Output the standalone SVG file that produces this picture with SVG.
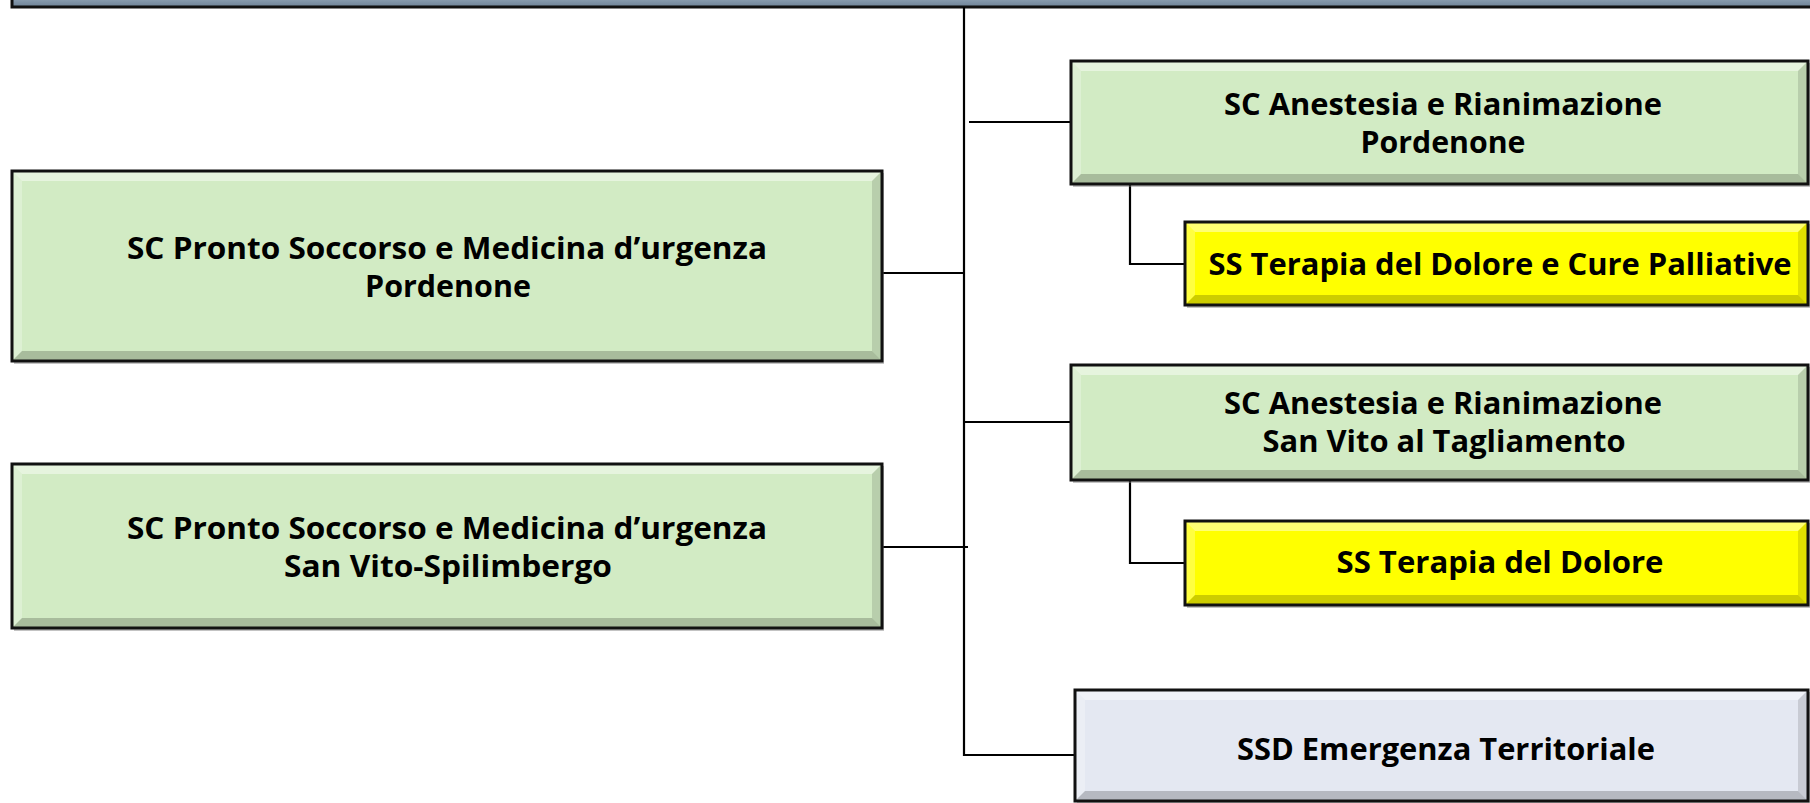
<svg xmlns="http://www.w3.org/2000/svg" width="1810" height="803" viewBox="0 0 1810 803">
<defs>
<linearGradient id="barGrad" x1="0" y1="0" x2="0" y2="1">
<stop offset="0" stop-color="#c3d0dc"/>
<stop offset="0.6" stop-color="#95a8ba"/>
<stop offset="1" stop-color="#6d8296"/>
</linearGradient>
</defs>
<style>
.green{fill:#d2ebc4}
.yellow{fill:#ffff00}
.blue{fill:#e4e8f2}
.frame{fill:none;stroke:#111;stroke-width:3}
.shadow{fill:#7a7a7a;opacity:0.45}
.bt{fill:#ffffff;opacity:0.45}
.bl{fill:#ffffff;opacity:0.25}
.bb{fill:#000000;opacity:0.2}
.br{fill:#000000;opacity:0.12}
.conn{fill:none;stroke:#000;stroke-width:2.2}
text{font-family:"Open Sans","Noto Sans","Liberation Sans",sans-serif;font-weight:700;font-size:31px;fill:#000;text-anchor:middle}
</style>
<rect x="0" y="0" width="1810" height="803" fill="#ffffff"/>

<g id="top-bar">
<rect x="12" y="-20" width="1810" height="27" fill="url(#barGrad)" stroke="#111" stroke-width="3"/>
</g>

<g id="connectors">
<path class="conn" d="M964,7 V755 H1075"/>
<path class="conn" d="M969,122 H1071"/>
<path class="conn" d="M882,273 H964"/>
<path class="conn" d="M964,422 H1071"/>
<path class="conn" d="M882,547 H968"/>
<path class="conn" d="M1130,184 V264 H1185"/>
<path class="conn" d="M1130,480 V563 H1185"/>
</g>

<g id="sc-ps-pordenone">
<rect class="shadow" x="14" y="173" width="870" height="191"/>
<rect class="green" x="12" y="171" width="870" height="190"/>
<path class="bt" d="M12,171 H882 L872,181 H22 Z"/>
<path class="bl" d="M12,171 L22,181 V351 L12,361 Z"/>
<path class="bb" d="M12,361 L22,351 H872 L882,361 Z"/>
<path class="br" d="M882,171 V361 L872,351 V181 Z"/>
<rect class="frame" x="12" y="171" width="870" height="190"/>
<text x="447" y="259" textLength="640" lengthAdjust="spacingAndGlyphs">SC Pronto Soccorso e Medicina d’urgenza</text>
<text x="448" y="297" textLength="166" lengthAdjust="spacingAndGlyphs">Pordenone</text>
</g>

<g id="sc-ps-sanvito">
<rect class="shadow" x="14" y="466" width="870" height="165"/>
<rect class="green" x="12" y="464" width="870" height="164"/>
<path class="bt" d="M12,464 H882 L872,474 H22 Z"/>
<path class="bl" d="M12,464 L22,474 V618 L12,628 Z"/>
<path class="bb" d="M12,628 L22,618 H872 L882,628 Z"/>
<path class="br" d="M882,464 V628 L872,618 V474 Z"/>
<rect class="frame" x="12" y="464" width="870" height="164"/>
<text x="447" y="539" textLength="640" lengthAdjust="spacingAndGlyphs">SC Pronto Soccorso e Medicina d’urgenza</text>
<text x="448" y="577" textLength="328" lengthAdjust="spacingAndGlyphs">San Vito-Spilimbergo</text>
</g>

<g id="sc-ar-pordenone">
<rect class="shadow" x="1073" y="63" width="737" height="124"/>
<rect class="green" x="1071" y="61" width="737" height="123"/>
<path class="bt" d="M1071,61 H1808 L1798,71 H1081 Z"/>
<path class="bl" d="M1071,61 L1081,71 V174 L1071,184 Z"/>
<path class="bb" d="M1071,184 L1081,174 H1798 L1808,184 Z"/>
<path class="br" d="M1808,61 V184 L1798,174 V71 Z"/>
<rect class="frame" x="1071" y="61" width="737" height="123"/>
<text x="1443" y="115" textLength="438" lengthAdjust="spacingAndGlyphs">SC Anestesia e Rianimazione</text>
<text x="1443" y="153" textLength="165" lengthAdjust="spacingAndGlyphs">Pordenone</text>
</g>

<g id="ss-terapia-dolore-cure-palliative">
<rect class="shadow" x="1187" y="224" width="623" height="84"/>
<rect class="yellow" x="1185" y="222" width="623" height="83"/>
<path class="bt" d="M1185,222 H1808 L1798,232 H1195 Z"/>
<path class="bl" d="M1185,222 L1195,232 V295 L1185,305 Z"/>
<path class="bb" d="M1185,305 L1195,295 H1798 L1808,305 Z"/>
<path class="br" d="M1808,222 V305 L1798,295 V232 Z"/>
<rect class="frame" x="1185" y="222" width="623" height="83"/>
<text x="1500" y="275" textLength="583" lengthAdjust="spacingAndGlyphs">SS Terapia del Dolore e Cure Palliative</text>
</g>

<g id="sc-ar-sanvito">
<rect class="shadow" x="1073" y="367" width="737" height="116"/>
<rect class="green" x="1071" y="365" width="737" height="115"/>
<path class="bt" d="M1071,365 H1808 L1798,375 H1081 Z"/>
<path class="bl" d="M1071,365 L1081,375 V470 L1071,480 Z"/>
<path class="bb" d="M1071,480 L1081,470 H1798 L1808,480 Z"/>
<path class="br" d="M1808,365 V480 L1798,470 V375 Z"/>
<rect class="frame" x="1071" y="365" width="737" height="115"/>
<text x="1443" y="414" textLength="438" lengthAdjust="spacingAndGlyphs">SC Anestesia e Rianimazione</text>
<text x="1444" y="452" textLength="363" lengthAdjust="spacingAndGlyphs">San Vito al Tagliamento</text>
</g>

<g id="ss-terapia-dolore">
<rect class="shadow" x="1187" y="523" width="623" height="85"/>
<rect class="yellow" x="1185" y="521" width="623" height="84"/>
<path class="bt" d="M1185,521 H1808 L1798,531 H1195 Z"/>
<path class="bl" d="M1185,521 L1195,531 V595 L1185,605 Z"/>
<path class="bb" d="M1185,605 L1195,595 H1798 L1808,605 Z"/>
<path class="br" d="M1808,521 V605 L1798,595 V531 Z"/>
<rect class="frame" x="1185" y="521" width="623" height="84"/>
<text x="1500" y="573" textLength="327" lengthAdjust="spacingAndGlyphs">SS Terapia del Dolore</text>
</g>

<g id="ssd-emergenza-territoriale">
<rect class="shadow" x="1077" y="692" width="733" height="112"/>
<rect class="blue" x="1075" y="690" width="733" height="111"/>
<path class="bt" d="M1075,690 H1808 L1798,700 H1085 Z"/>
<path class="bl" d="M1075,690 L1085,700 V791 L1075,801 Z"/>
<path class="bb" d="M1075,801 L1085,791 H1798 L1808,801 Z"/>
<path class="br" d="M1808,690 V801 L1798,791 V700 Z"/>
<rect class="frame" x="1075" y="690" width="733" height="111"/>
<text x="1446" y="760" textLength="418" lengthAdjust="spacingAndGlyphs">SSD Emergenza Territoriale</text>
</g>
</svg>
